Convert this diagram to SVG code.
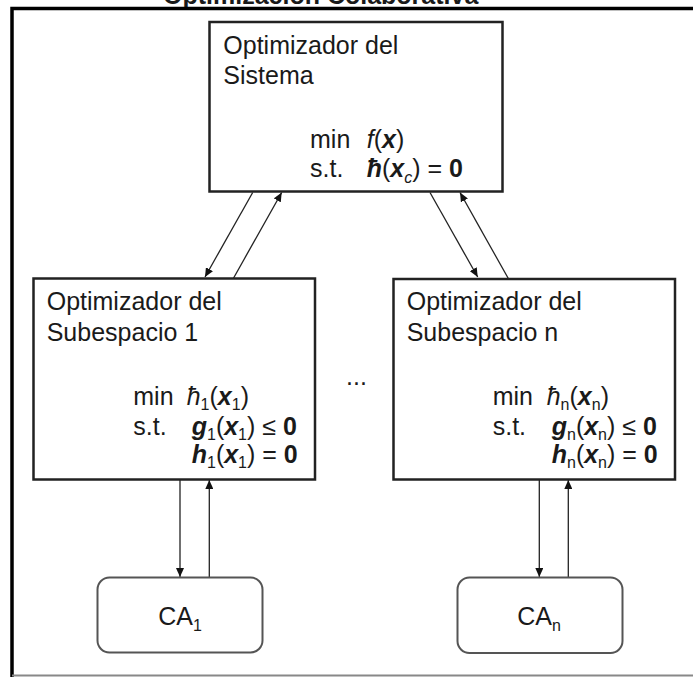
<svg xmlns="http://www.w3.org/2000/svg" width="693" height="677" viewBox="0 0 693 677">
<style>
text{font-family:"Liberation Sans",Arial,sans-serif;fill:#1a1a1a;font-size:25px}
.box{fill:#fff;stroke:#222;stroke-width:2.5}
.ca{fill:#fff;stroke:#555;stroke-width:2}
.ln{stroke:#222;stroke-width:1.3;fill:none;marker-end:url(#ah)}
.bi{font-weight:bold;font-style:italic}
.it{font-style:italic}
.b{font-weight:bold}
.s{font-size:16px}
</style>
<defs>
<marker id="ah" markerUnits="userSpaceOnUse" markerWidth="10" markerHeight="8" refX="9" refY="4" orient="auto">
<path d="M0,0 L9,4 L0,8 z" fill="#111"/>
</marker>
</defs>
<rect width="693" height="677" fill="#fff"/>
<text x="163" y="4" font-weight="bold" font-size="27">Optimización Colaborativa</text>
<path d="M12,677 V8.5 H693" fill="none" stroke="#000" stroke-width="3.5"/>
<line x1="12" y1="675.5" x2="693" y2="675.5" stroke="#888" stroke-width="2"/>
<g id="connectors">
<line class="ln" x1="252.7" y1="192.5" x2="205" y2="277"/>
<line class="ln" x1="233.3" y1="278.5" x2="281.7" y2="192.5"/>
<line class="ln" x1="430" y1="192.5" x2="477.7" y2="277"/>
<line class="ln" x1="508.3" y1="278.5" x2="460" y2="192.5"/>
<line class="ln" x1="180" y1="480" x2="180" y2="577"/>
<line class="ln" x1="209.3" y1="577" x2="209.3" y2="480"/>
<line class="ln" x1="539.3" y1="480" x2="539.3" y2="577"/>
<line class="ln" x1="568.3" y1="577" x2="568.3" y2="480"/>
</g>
<g id="sistema">
<rect class="box" x="209.5" y="22" width="293" height="169.5"/>
<text x="223.3" y="54.3">Optimizador del</text>
<text x="223.3" y="84">Sistema</text>
<text x="310" y="148.3">min</text>
<text x="366.7" y="148.3"><tspan class="it">f</tspan>(<tspan class="bi">x</tspan>)</text>
<text x="310" y="176.7">s.t.</text>
<text x="366.7" y="176.7"><tspan class="bi">ħ</tspan>(<tspan class="bi">x</tspan><tspan class="s it" dy="6">c</tspan><tspan dy="-6">) = </tspan><tspan class="b">0</tspan></text>
</g>
<g id="subespacio1">
<rect class="box" x="33.5" y="278.5" width="281.5" height="201"/>
<text x="46.7" y="310">Optimizador del</text>
<text x="46.7" y="341">Subespacio 1</text>
<text x="133.3" y="405">min</text>
<text x="186.7" y="405"><tspan class="it">ħ</tspan><tspan class="s" dy="5">1</tspan><tspan dy="-5">(</tspan><tspan class="bi">x</tspan><tspan class="s" dy="5">1</tspan><tspan dy="-5">)</tspan></text>
<text x="133.3" y="435">s.t.</text>
<text x="191.7" y="435"><tspan class="bi">g</tspan><tspan class="s" dy="5">1</tspan><tspan dy="-5">(</tspan><tspan class="bi">x</tspan><tspan class="s" dy="5">1</tspan><tspan dy="-5">) ≤ </tspan><tspan class="b">0</tspan></text>
<text x="191.7" y="463.3"><tspan class="bi">h</tspan><tspan class="s" dy="5">1</tspan><tspan dy="-5">(</tspan><tspan class="bi">x</tspan><tspan class="s" dy="5">1</tspan><tspan dy="-5">) = </tspan><tspan class="b">0</tspan></text>
</g>
<g id="dots"><text x="346" y="385" font-size="22">...</text></g>
<g id="subespacion">
<rect class="box" x="393.5" y="279" width="281.5" height="200.5"/>
<text x="406.7" y="310">Optimizador del</text>
<text x="406.7" y="341">Subespacio n</text>
<text x="492.7" y="405">min</text>
<text x="546.7" y="405"><tspan class="it">ħ</tspan><tspan class="s" dy="5">n</tspan><tspan dy="-5">(</tspan><tspan class="bi">x</tspan><tspan class="s" dy="5">n</tspan><tspan dy="-5">)</tspan></text>
<text x="492.7" y="435">s.t.</text>
<text x="551.7" y="435"><tspan class="bi">g</tspan><tspan class="s" dy="5">n</tspan><tspan dy="-5">(</tspan><tspan class="bi">x</tspan><tspan class="s" dy="5">n</tspan><tspan dy="-5">) ≤ </tspan><tspan class="b">0</tspan></text>
<text x="551.7" y="463.3"><tspan class="bi">h</tspan><tspan class="s" dy="5">n</tspan><tspan dy="-5">(</tspan><tspan class="bi">x</tspan><tspan class="s" dy="5">n</tspan><tspan dy="-5">) = </tspan><tspan class="b">0</tspan></text>
</g>
<g id="ca1">
<rect class="ca" x="97.5" y="577.5" width="165" height="75" rx="12"/>
<text x="158.3" y="625">CA<tspan class="s" dy="6">1</tspan></text>
</g>
<g id="can">
<rect class="ca" x="457.5" y="577.5" width="165" height="75.5" rx="12"/>
<text x="517.3" y="625">CA<tspan class="s" dy="6">n</tspan></text>
</g>
</svg>
